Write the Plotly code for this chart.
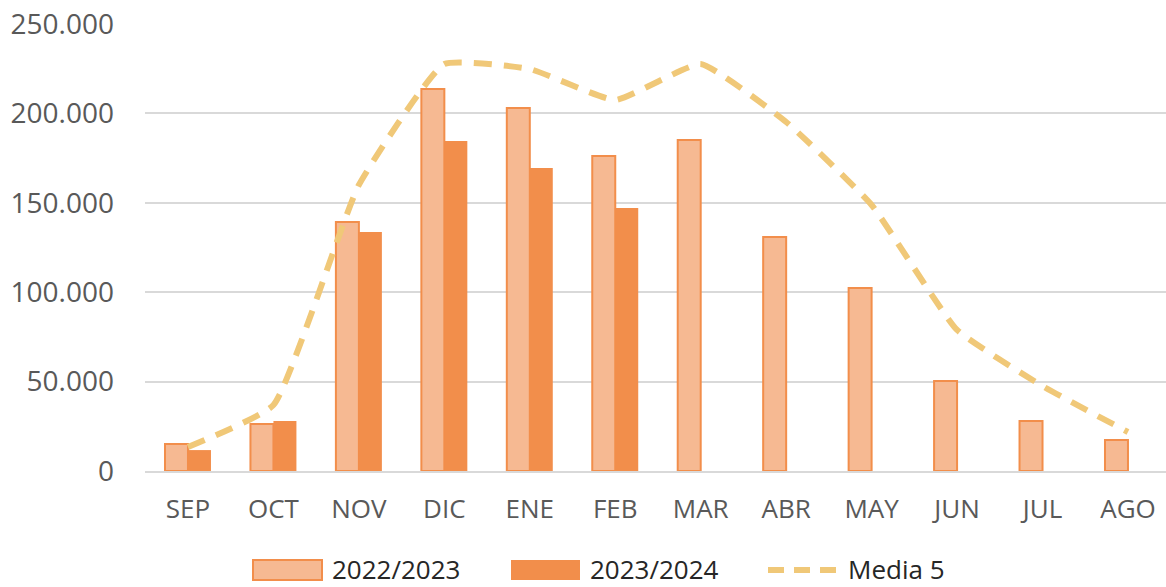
import plotly.graph_objects as go

months = ["SEP", "OCT", "NOV", "DIC", "ENE", "FEB", "MAR", "ABR", "MAY", "JUN", "JUL", "AGO"]
s2022 = [15100, 26300, 139300, 213600, 203000, 176200, 185100, 130900, 102300, 50300, 28000, 17300]
s2023 = [11700, 28000, 133700, 184600, 169500, 147100, None, None, None, None, None, None]
media5 = [13400, 36900, 160000, 227600, 224800, 207500, 227600, 195200, 148800, 78900, 47500, 21800]
yticks = [0, 50000, 100000, 150000, 200000, 250000]
yticklabels = ["0", "50.000", "100.000", "150.000", "200.000", "250.000"]
names = ["2022/2023", "2023/2024", "Media 5"]

LIGHT = "#F6B992"
DARK = "#F28E4B"
GOLD = "#F0C878"
FONT = "Open Sans"

fig = go.Figure()
fig.add_trace(go.Bar(x=months, y=s2022, name=names[0],
                     marker=dict(color=LIGHT, line=dict(color=DARK, width=2))))
fig.add_trace(go.Bar(x=months, y=s2023, name=names[1],
                     marker=dict(color=DARK, line=dict(color=DARK, width=0))))
fig.add_trace(go.Scatter(x=months, y=media5, name=names[2], mode="lines",
                         line=dict(color=GOLD, width=6, dash="18px,12px", shape="spline", smoothing=0.4)))

# plot area: x 145..1166, y 24..471 (screen px); body margin removed below
L, R, T, B = 145, 1166, 24, 471
W = R - L
H = B - T

def px_x(x):
    return (x - L) / W

def px_y(y):
    return (B - y) / H

# custom legend (wide rectangular symbols like the reference)
box_top, box_bot, line_y, text_y = 560, 580, 570, 569
legend_items = [
    (253, 322, 330, "rect_light"),
    (511, 580, 588, "rect_dark"),
    (768, 838, 846, "dash"),
]
shapes = []
annotations = []
for (x0, x1, xt, kind), nm in zip(legend_items, names):
    if kind == "rect_light":
        shapes.append(dict(type="rect", xref="paper", yref="paper", x0=px_x(x0), x1=px_x(x1),
                           y0=px_y(box_top), y1=px_y(box_bot),
                           fillcolor=LIGHT, line=dict(color=DARK, width=2)))
    elif kind == "rect_dark":
        shapes.append(dict(type="rect", xref="paper", yref="paper", x0=px_x(x0), x1=px_x(x1),
                           y0=px_y(box_top), y1=px_y(box_bot),
                           fillcolor=DARK, line=dict(color=DARK, width=0)))
    else:
        shapes.append(dict(type="line", xref="paper", yref="paper", x0=px_x(x0), x1=px_x(x1),
                           y0=px_y(line_y), y1=px_y(line_y),
                           line=dict(color=GOLD, width=6, dash="16px,10px")))
    annotations.append(dict(text=nm, xref="paper", yref="paper", x=px_x(xt), y=px_y(text_y),
                            xanchor="left", yanchor="middle", showarrow=False,
                            font=dict(family=FONT, size=26, color="#262626")))

fig.update_layout(
    width=1166, height=587,
    margin=dict(l=L, r=1166 - R, t=T, b=587 - B, autoexpand=False),
    plot_bgcolor="white", paper_bgcolor="white",
    barmode="group", bargap=0.462, bargroupgap=0,
    font=dict(family=FONT, color="#595959", size=27),
    showlegend=False,
    shapes=shapes, annotations=annotations,
    xaxis=dict(range=[-0.503, 11.445], showgrid=False, showline=True, linecolor="#D9D9D9", linewidth=2,
               tickfont=dict(family=FONT, size=26, color="#595959"), ticks="",
               ticklabelstandoff=14, automargin=False),
    yaxis=dict(range=[0, 250000], tickvals=yticks, ticktext=yticklabels,
               showgrid=True, gridcolor="#D9D9D9", gridwidth=2, zeroline=False,
               tickfont=dict(family=FONT, size=28, color="#595959"), ticks="",
               ticklabelstandoff=30, ticklabeloverflow="allow", automargin=False),
)
fig.write_html("out.html", config={"displayModeBar": False},
               post_script="document.body.style.margin='0';")
